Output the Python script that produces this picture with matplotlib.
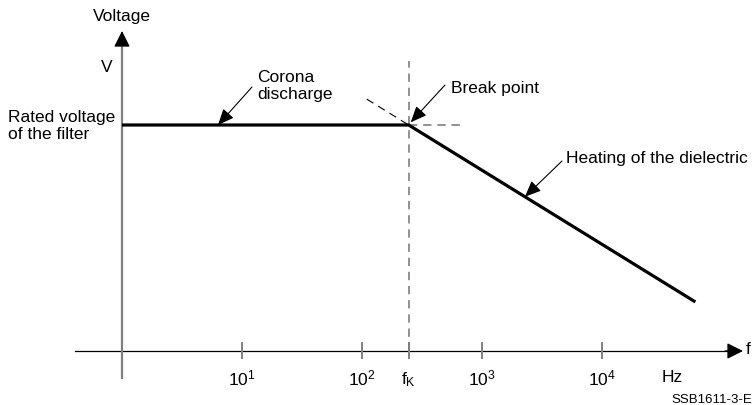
import matplotlib.pyplot as plt
import numpy as np

plt.rcParams['font.family'] = ['Liberation Sans', 'DejaVu Sans']
plt.rcParams['mathtext.fontset'] = 'custom'
plt.rcParams['mathtext.rm'] = 'Liberation Sans'
plt.rcParams['mathtext.it'] = 'Liberation Sans'

# schematic voltage vs frequency curve (log f axis, relative voltage)
curve_f = [1.0, 245.0, 6.0e4]      # Hz
curve_v = [1.0, 1.0, 0.217]        # relative to rated voltage
f_k = 245.0                         # break frequency
tick_exp = [1, 2, 3, 4]             # decade ticks 10^n
tick_labels = ['10$^{\\mathrm{1}}$', '10$^{\\mathrm{2}}$', '10$^{\\mathrm{3}}$', '10$^{\\mathrm{4}}$']

W, H = 755, 406
fig = plt.figure(figsize=(W / 100, H / 100), dpi=100)
ax = fig.add_axes([0, 0, 1, 1])
ax.set_xscale('log')
# 120 px per decade, f=1 at x=122 ; V=0 at y=352, V=1 at y=126
ax.set_xlim(10 ** (-122 / 120), 10 ** ((W - 122) / 120))
ax.set_ylim(-(H - 352) / 226, 352 / 226)
ax.axis('off')

grey = '#7f7f7f'
fs = 12.5


def fpx(x, y):
    # figure pixel coords measured from top-left
    return (x, H - y)


# axes with arrows
ax.plot([10 ** (-47 / 120), 10 ** ((730 - 122) / 120)], [0, 0], color='black', lw=0.9)
ax.annotate('', xy=(10 ** ((743 - 122) / 120), 0), xytext=(10 ** ((725 - 122) / 120), 0),
            arrowprops=dict(arrowstyle='-|>,head_length=0.7,head_width=0.35', mutation_scale=14,
                            color='black', lw=0.9, shrinkA=0, shrinkB=0))
ax.plot([1, 1], [-27 / 226, (352 - 40) / 226], color=grey, lw=1.6)
ax.annotate('', xy=(1, (352 - 32) / 226), xytext=(1, (352 - 44) / 226),
            arrowprops=dict(arrowstyle='-|>,head_length=0.7,head_width=0.35', mutation_scale=14,
                            color='black', lw=0.9, shrinkA=0, shrinkB=0))

# decade ticks
for e in tick_exp + [np.log10(f_k)]:
    ax.plot([10 ** e, 10 ** e], [-0.033, 0.036], color=grey, lw=1.4)
for e, lab in zip(tick_exp, tick_labels):
    ax.text(10 ** e, -26 / 226, lab, ha='center', va='center', fontsize=fs)
ax.text(f_k, -28 / 226, 'f$_{\\mathrm{K}}$', ha='center', va='center', fontsize=fs)

# break point construction lines
ax.plot([f_k, f_k], [0, (352 - 62) / 226], color=grey, lw=1.2, ls=(0, (5, 3.5)))
ax.plot([f_k, 10 ** 2.833], [curve_v[1], curve_v[1]], color=grey, lw=1.2, ls=(0, (5, 3.5)))
slope = (curve_v[2] - curve_v[1]) / (np.log10(curve_f[2]) - np.log10(curve_f[1]))
f_ext = 10 ** 2.04
v_ext = curve_v[1] + slope * (np.log10(f_ext) - np.log10(f_k))
ax.plot([f_ext, f_k], [v_ext, curve_v[1]], color='black', lw=0.8, ls=(0, (7, 5)))

# main curve
ax.plot(curve_f, curve_v, color='black', lw=2.3, solid_capstyle='butt')

# annotations
arrow = dict(arrowstyle='-|>,head_length=0.7,head_width=0.3', mutation_scale=14,
             color='black', lw=0.8, shrinkA=0, shrinkB=0)
ax.annotate('', xy=(10 ** 0.8, curve_v[0]), xytext=fpx(252, 88),
            textcoords='figure pixels', arrowprops=arrow)
ax.annotate('', xy=(f_k * 1.04, curve_v[1] + 0.012), xytext=fpx(445, 86),
            textcoords='figure pixels', arrowprops=arrow)
f_h = 10 ** 3.358
v_h = curve_v[1] + slope * (np.log10(f_h) - np.log10(f_k))
ax.annotate('', xy=(f_h, v_h), xytext=fpx(562, 162),
            textcoords='figure pixels', arrowprops=arrow)

# texts
fig.text(122 / W, 1 - 17 / H, 'Voltage', ha='center', va='center', fontsize=fs)
fig.text(107 / W, 1 - 68 / H, 'V', ha='center', va='center', fontsize=fs)
fig.text(8 / W, 1 - 126 / H, 'Rated voltage\nof the filter', ha='left', va='center',
         fontsize=fs, linespacing=1.15)
fig.text(257 / W, 1 - 86 / H, 'Corona\ndischarge', ha='left', va='center',
         fontsize=fs, linespacing=1.15)
fig.text(451 / W, 1 - 89 / H, 'Break point', ha='left', va='center', fontsize=fs)
fig.text(566 / W, 1 - 158 / H, 'Heating of the dielectric', ha='left', va='center', fontsize=fs)
fig.text(672 / W, 1 - 378 / H, 'Hz', ha='center', va='center', fontsize=fs)
fig.text(746 / W, 1 - 350 / H, 'f', ha='left', va='center', fontsize=fs)
fig.text(752 / W, 1 - 400 / H, 'SSB1611-3-E', ha='right', va='center', fontsize=9.5)

fig.savefig('out.png', dpi=100)
